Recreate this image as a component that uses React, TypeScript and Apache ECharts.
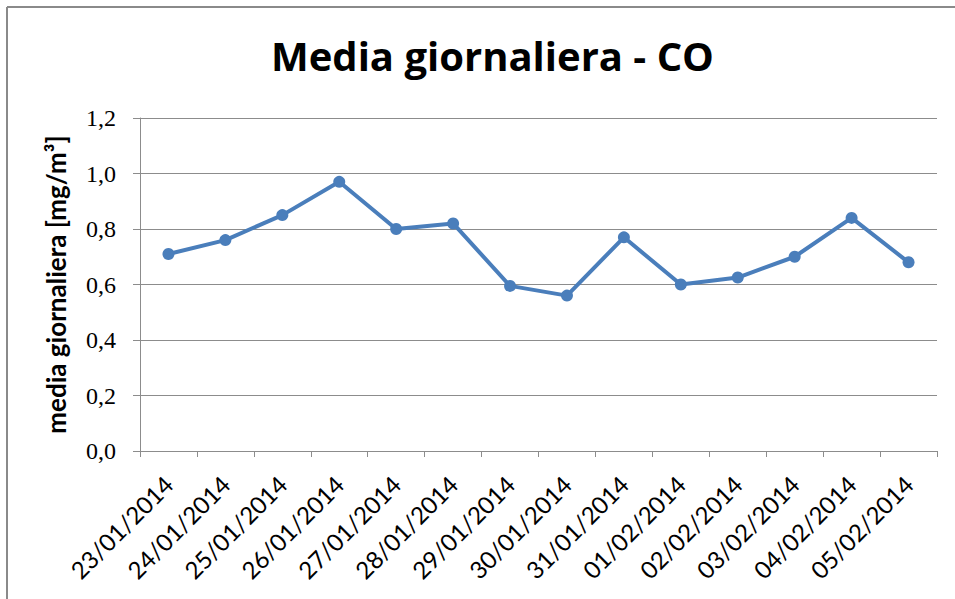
import React, { useEffect, useRef } from "react";
import * as echarts from "echarts";

const categories = [
  "23/01/2014", "24/01/2014", "25/01/2014", "26/01/2014", "27/01/2014",
  "28/01/2014", "29/01/2014", "30/01/2014", "31/01/2014", "01/02/2014",
  "02/02/2014", "03/02/2014", "04/02/2014", "05/02/2014",
];
const values = [0.71, 0.76, 0.85, 0.97, 0.80, 0.82, 0.595, 0.56, 0.77, 0.60, 0.625, 0.70, 0.84, 0.68];
const titleText = "Media giornaliera - CO";
const yAxisName = "media giornaliera [mg/m³]";

export default function App() {
  const ref = useRef<HTMLDivElement>(null);
  useEffect(() => {
    document.body.style.margin = "0";
    const chart = echarts.init(ref.current!, null, { renderer: "svg" });
    const gray = "#8c8c8c";
    chart.setOption({
      animation: false,
      backgroundColor: "#ffffff",
      title: {
        text: titleText,
        left: 266,
        top: 30,
        textStyle: { fontFamily: "Open Sans", fontWeight: "bold", fontSize: 40, color: "#000" },
      },
      graphic: [
        { type: "line", shape: { x1: 7, y1: 7, x2: 955, y2: 7 }, style: { stroke: "#8a8a8a", lineWidth: 2 } },
        { type: "line", shape: { x1: 7, y1: 7, x2: 7, y2: 599 }, style: { stroke: "#8a8a8a", lineWidth: 2 } },
      ],
      grid: { left: 140, right: 18, top: 118, bottom: 148 },
      xAxis: {
        type: "category",
        data: categories,
        boundaryGap: true,
        axisLine: { lineStyle: { color: gray, width: 1 } },
        axisTick: { show: true, length: 6, lineStyle: { color: gray } },
        axisLabel: {
          rotate: 45,
          interval: 0,
          margin: 29,
          fontFamily: "Lato",
          fontSize: 24,
          color: "#000",
        },
      },
      yAxis: {
        type: "value",
        min: 0,
        max: 1.2,
        interval: 0.2,
        name: yAxisName,
        nameLocation: "middle",
        nameGap: 71,
        nameRotate: 90,
        nameTextStyle: { fontFamily: "Lato", fontWeight: "bold", fontSize: 26, color: "#000" },
        axisLine: { show: true, lineStyle: { color: gray, width: 1 } },
        axisTick: { show: true, length: 7, lineStyle: { color: gray } },
        splitLine: { show: true, lineStyle: { color: gray, width: 1 } },
        axisLabel: {
          margin: 24,
          fontFamily: "Liberation Serif",
          fontSize: 24,
          color: "#000",
          formatter: (v: number) => v.toFixed(1).replace(".", ","),
        },
      },
      series: [
        {
          type: "line",
          data: values,
          symbol: "circle",
          symbolSize: 12,
          lineStyle: { color: "#4a7ebb", width: 4 },
          itemStyle: { color: "#4a7ebb" },
        },
      ],
    });
    return () => chart.dispose();
  }, []);
  return <div ref={ref} style={{ position: "fixed", left: 0, top: 0, width: 955, height: 599 }} />;
}
